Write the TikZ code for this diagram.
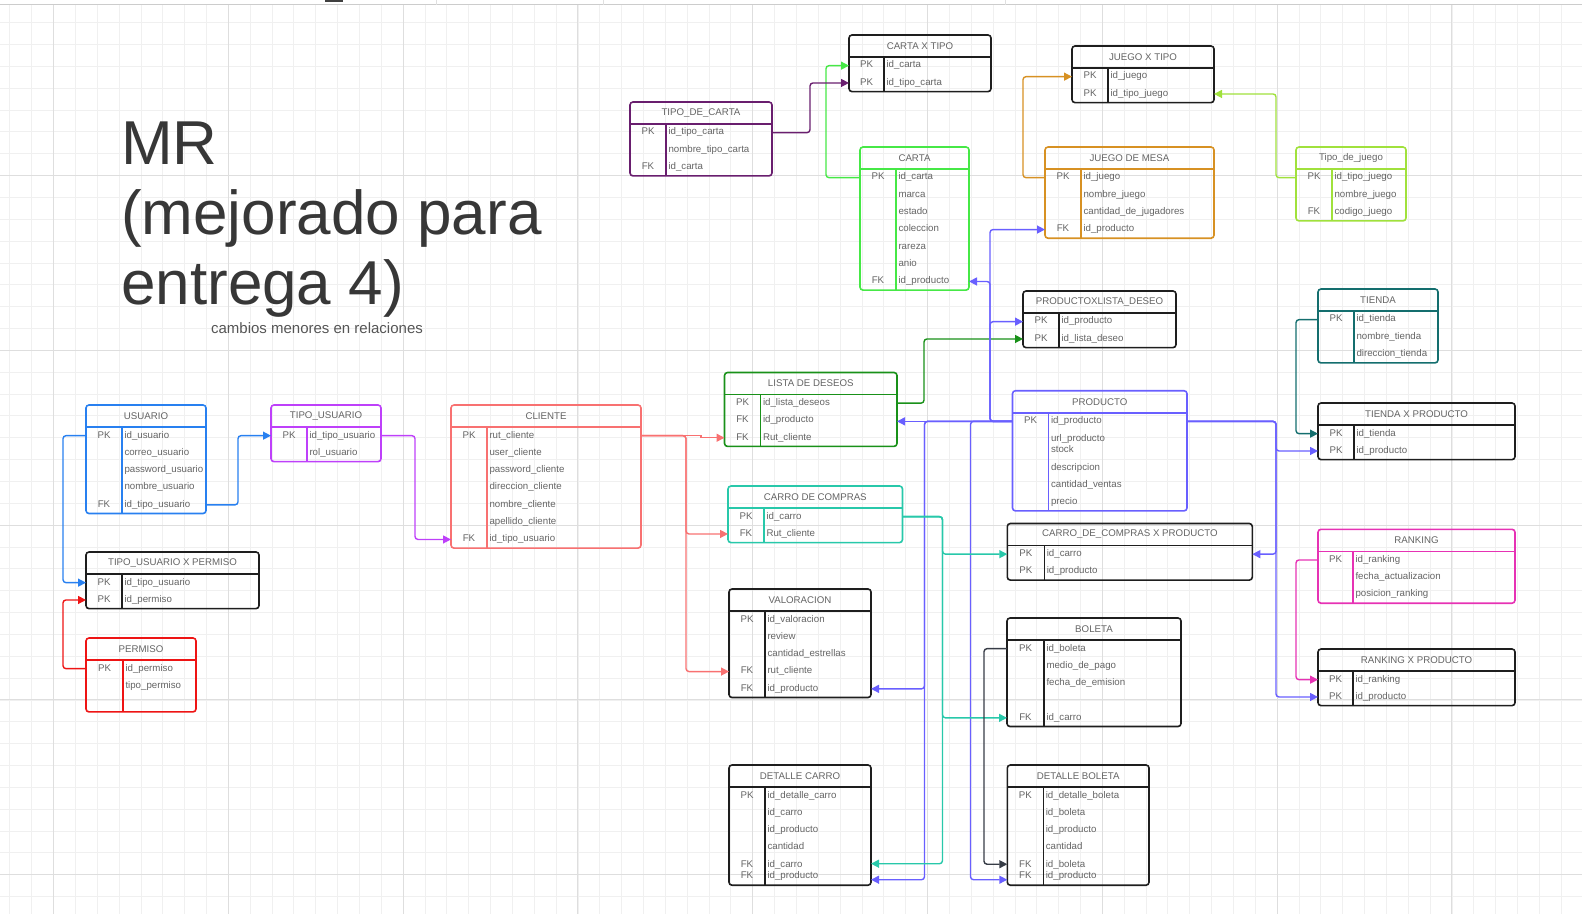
\documentclass[tikz,border=0pt]{standalone}
\usepackage{fontspec}
\setmainfont{Liberation Sans}
\usetikzlibrary{arrows.meta}

\definecolor{ertext}{RGB}{100,100,100}
\definecolor{titlegray}{RGB}{55,55,55}
\definecolor{subgray}{RGB}{85,85,85}
\definecolor{cblack}{RGB}{30,30,30}
\definecolor{cblue}{RGB}{40,128,240}
\definecolor{cpurple}{RGB}{190,64,250}
\definecolor{cred}{RGB}{238,20,20}
\definecolor{csalmon}{RGB}{248,113,113}
\definecolor{cplum}{RGB}{105,30,110}
\definecolor{cgreen}{RGB}{70,232,70}
\definecolor{cdkgreen}{RGB}{25,145,25}
\definecolor{corange}{RGB}{215,145,35}
\definecolor{clime}{RGB}{160,225,60}
\definecolor{cteal}{RGB}{20,110,110}
\definecolor{cturq}{RGB}{40,200,170}
\definecolor{cviolet}{RGB}{105,95,255}
\definecolor{cmagenta}{RGB}{230,50,180}
\definecolor{cslate}{RGB}{55,60,70}

\tikzset{
  gridminor/.style={draw=black!6, line width=0.8pt},
  gridmajor/.style={draw=black!13, line width=1.1pt},
  erhead/.style={anchor=north west, minimum height=22pt, inner sep=0pt, outer sep=0pt,
    text=ertext, font=\fontsize{9.7}{11.7}\selectfont},
  errow/.style={anchor=north west, align=left, minimum height=17.3pt, inner xsep=2.5pt,
    inner ysep=2.8pt, outer sep=0pt, text=ertext, font=\fontsize{9.7}{11.7}\selectfont},
  erkey/.style={align=center, inner sep=0pt, text=ertext, font=\fontsize{9.7}{11.7}\selectfont},
  erframe/.style={draw=#1, line width=1.6pt, rounded corners=3pt},
  fk/.style={draw=#1, line width=1.4pt, rounded corners=3pt, -{Triangle[length=8pt,width=8pt]}},
  titletext/.style={inner sep=0pt, text=titlegray, font=\fontsize{62}{72}\selectfont},
}

% table: name, position, width, key width, colour, title, key/field rows
\newcommand{\ertable}[7]{%
  \pgfmathsetmacro\erfw{#3-#4-5}%
  \pgfmathsetmacro\erhk{#4/2}%
  \node[erhead, minimum width=#3pt] (#1) at #2 {#6};
  \node[inner sep=0pt, outer sep=0pt, minimum size=0pt, anchor=north west] (#1-r0) at ([xshift=#4pt]#1.south west) {};
  \foreach \k/\f [count=\i, remember=\i as \j (initially 0)] in {#7}{
    \node[errow, text width=\erfw pt] (#1-r\i) at (#1-r\j.south west) {\strut\f\strut};
    \node[erkey] (#1-k\i) at ([xshift=-\erhk pt]#1-r\i.west) {\strut\k\strut};
    \xdef\erlast{#1-r\i}
  }
  \draw[erframe=#5] (#1.north west) rectangle (\erlast.south east);
  \draw[erframe=#5] (#1.south west) -- (#1.south east);
  \draw[erframe=#5] (#1-r0.center) -- (\erlast.south west);
}

\begin{document}
\begin{tikzpicture}[x=1pt, y=-1pt]
  \useasboundingbox (0,0) rectangle (1582,914);
  % grid
  \foreach \g in {-2,...,69}
    \draw[gridminor] ({53.5+21.85*\g},4.5) -- ({53.5+21.85*\g},914);
  \foreach \g in {1,...,41}
    \draw[gridminor] (0,{0.7+21.85*\g}) -- (1582,{0.7+21.85*\g});
  \foreach \g in {0,...,8}
    \draw[gridmajor] ({53.5+174.8*\g},4.5) -- ({53.5+174.8*\g},914);
  \foreach \g in {1,...,5}
    \draw[gridmajor] (0,{0.7+174.8*\g}) -- (1582,{0.7+174.8*\g});
  \draw[draw=black!20, line width=0.8pt] (0,4.5) -- (1582,4.5);
  \foreach \cx in {436,603,1005}
    \draw[draw=black!12, line width=0.8pt] (\cx,0) -- (\cx,4.5);
  \fill[black!75] (325,0) rectangle (343,2);

  % title
  \node[titletext, anchor=base west] (mr) at (121,164) {MR};
  \node[titletext, anchor=base west] (mej) at (121,234) {(mejorado para};
  \node[titletext, anchor=base west] (ent) at (121,304) {entrega 4)};
  \node[anchor=base, inner sep=0pt, text=subgray, font=\fontsize{15}{18}\selectfont] (sub) at (317,333) {cambios menores en relaciones};

  % tables
  \ertable{usu}{(86,405)}{120}{36}{cblue}{USUARIO}{PK/id\_usuario, /correo\_usuario, /password\_usuario, /nombre\_usuario, FK/id\_tipo\_usuario}
  \ertable{tus}{(271,405)}{110}{36}{cpurple}{TIPO\_USUARIO}{PK/id\_tipo\_usuario, /rol\_usuario}
  \ertable{tup}{(86,552)}{173}{36}{cblack}{TIPO\_USUARIO X PERMISO}{PK/id\_tipo\_usuario, PK/id\_permiso}
  \ertable{per}{(86,638)}{110}{37}{cred}{PERMISO}{PK/id\_permiso, /tipo\_permiso, /{}}
  \ertable{cli}{(451,405)}{190}{36}{csalmon}{CLIENTE}{PK/rut\_cliente, /user\_cliente, /password\_cliente, /direccion\_cliente, /nombre\_cliente, /apellido\_cliente, FK/id\_tipo\_usuario}
  \ertable{tdc}{(630,102)}{142}{36}{cplum}{TIPO\_DE\_CARTA}{PK/id\_tipo\_carta, /nombre\_tipo\_carta, FK/id\_carta}
  \ertable{cxt}{(849,35)}{142}{35}{cblack}{CARTA X TIPO}{PK/id\_carta, PK/id\_tipo\_carta}
  \ertable{car}{(860,147)}{109}{36}{cgreen}{CARTA}{PK/id\_carta, /marca, /estado, /coleccion, /rareza, /anio, FK/id\_producto}
  \ertable{jxt}{(1072,46)}{142}{36}{cblack}{JUEGO X TIPO}{PK/id\_juego, PK/id\_tipo\_juego}
  \ertable{jdm}{(1045,147)}{169}{36}{corange}{JUEGO DE MESA}{PK/id\_juego, /nombre\_juego, /cantidad\_de\_jugadores, FK/id\_producto}
  \ertable{tdj}{(1296,147)}{110}{36}{clime}{Tipo\_de\_juego}{PK/id\_tipo\_juego, /nombre\_juego, FK/codigo\_juego}
  \ertable{pld}{(1023,291)}{153}{36}{cblack}{PRODUCTOXLISTA\_DESEO}{PK/id\_producto, PK/id\_lista\_deseo}
  \ertable{tie}{(1318,289)}{120}{36}{cteal}{TIENDA}{PK/id\_tienda, /nombre\_tienda, /direccion\_tienda}
  \ertable{txp}{(1318,403)}{197}{36}{cblack}{TIENDA X PRODUCTO}{PK/id\_tienda, PK/id\_producto}
  \ertable{lis}{(724.5,372.5)}{172.5}{36}{cdkgreen}{LISTA DE DESEOS}{PK/id\_lista\_deseos, FK/id\_producto, FK/Rut\_cliente}
  \ertable{cdc}{(728,486)}{174.5}{36}{cturq}{CARRO DE COMPRAS}{PK/id\_carro, FK/Rut\_cliente}
  \ertable{pro}{(1012.5,390.7)}{174.5}{36}{cviolet}{PRODUCTO}{PK/id\_producto, /{url\_producto\\stock}, /descripcion, /cantidad\_ventas, /precio}
  \ertable{ccp}{(1007.3,523.5)}{245}{37}{cblack}{CARRO\_DE\_COMPRAS X PRODUCTO}{PK/id\_carro, PK/id\_producto}
  \ertable{ran}{(1318,529.3)}{197}{35}{cmagenta}{RANKING}{PK/id\_ranking, /fecha\_actualizacion, /posicion\_ranking}
  \ertable{rxp}{(1318,649)}{197}{35}{cblack}{RANKING X PRODUCTO}{PK/id\_ranking, PK/id\_producto}
  \ertable{val}{(729,589)}{142}{36}{cblack}{VALORACION}{PK/id\_valoracion, /review, /cantidad\_estrellas, FK/rut\_cliente, FK/id\_producto}
  \ertable{bol}{(1007,618)}{174}{37}{cblack}{BOLETA}{PK/id\_boleta, /medio\_de\_pago, /fecha\_de\_emision, /{}, FK/id\_carro}
  \ertable{dca}{(729,765)}{142}{36}{cblack}{DETALLE CARRO}{PK/id\_detalle\_carro, /id\_carro, /id\_producto, /cantidad, {FK\\FK}/{id\_carro\\id\_producto}}
  \ertable{dbo}{(1007.3,765)}{141.7}{36}{cblack}{DETALLE BOLETA}{PK/id\_detalle\_boleta, /id\_boleta, /id\_producto, /cantidad, {FK\\FK}/{id\_boleta\\id\_producto}}

  % connectors
  \draw[fk=cblue] (usu.west |- usu-r1) -- ++(-23,0) |- (tup.west |- tup-r1);
  \draw[fk=cblue] (usu-r5.east) -- ++(32,0) |- (tus.west |- tus-r1);
  \draw[fk=cpurple] (tus-r1.east) -- ++(34,0) |- (cli.west |- cli-r7);
  \draw[fk=cred] (per.west |- per-r1) -- ++(-23,0) |- (tup.west |- tup-r2);
  \draw[fk=csalmon, sharp corners] (cli-r1.east) -- ++(60,0) |- (lis.west |- lis-r3);
  \draw[fk=csalmon] (cli-r1.east) -- ++(45,0) |- (cdc.west |- cdc-r2);
  \draw[fk=csalmon] (cli-r1.east) -- ++(45,0) |- (val.west |- val-r4);
  \draw[fk=cdkgreen] (lis-r1.east) -- ++(27,0) |- (pld.west |- pld-r2);
  \draw[fk=cgreen] (car.west |- car-r1) -- ++(-34,0) |- (cxt.west |- cxt-r1);
  \draw[fk=cplum] (tdc-r1.east) -- ++(38,0) |- (cxt.west |- cxt-r2);
  \draw[fk=corange] (jdm.west |- jdm-r1) -- ++(-22,0) |- (jxt.west |- jxt-r1);
  \draw[fk=clime] (tdj.west |- tdj-r1) -- ++(-20,0) |- (jxt-r2.east);
  \draw[fk=cteal] (tie.west |- tie-r1) -- ++(-22,0) |- (txp.west |- txp-r1);
  \draw[fk=cviolet] (pro.west |- pro-r1) -- (lis-r2.east |- pro-r1);
  \draw[fk=cviolet] (pro.west |- pro-r1) -- ++(-22.5,0) |- (car-r7.east);
  \draw[fk=cviolet] (pro.west |- pro-r1) -- ++(-22.5,0) |- (jdm.west |- jdm-r4);
  \draw[fk=cviolet] (pro.west |- pro-r1) -- ++(-22.5,0) |- (pld.west |- pld-r1);
  \draw[fk=cviolet] (pro.west |- pro-r1) -- ++(-88,0) |- (val-r5.east);
  \draw[fk=cviolet] (pro.west |- pro-r1) -- ++(-88,0) |- ([yshift=-9pt]dca-r5.east);
  \draw[fk=cviolet] (pro.west |- pro-r1) -- ++(-42,0) |- ([yshift=-9pt]dbo-r5.west -| dbo.west);
  \draw[fk=cviolet] (pro-r1.east) -- ++(89,0) |- (txp.west |- txp-r2);
  \draw[fk=cviolet] (pro-r1.east) -- ++(89,0) |- (ccp-r1.east);
  \draw[fk=cviolet] (pro-r1.east) -- ++(89,0) |- (rxp.west |- rxp-r2);
  \draw[fk=cmagenta] (ran.west |- ran-r1) -- ++(-22,0) |- (rxp.west |- rxp-r1);
  \draw[fk=cturq] (cdc-r1.east) -- ++(40,0) |- (ccp.west |- ccp-r1);
  \draw[fk=cturq] (cdc-r1.east) -- ++(40,0) |- (bol.west |- bol-r5);
  \draw[fk=cturq] (cdc-r1.east) -- ++(40,0) |- ([yshift=7pt]dca-r5.east);
  \draw[fk=cslate] (bol.west |- bol-r1) -- ++(-23,0) |- ([yshift=6.5pt]dbo-r5.west -| dbo.west);
\end{tikzpicture}
\end{document}
